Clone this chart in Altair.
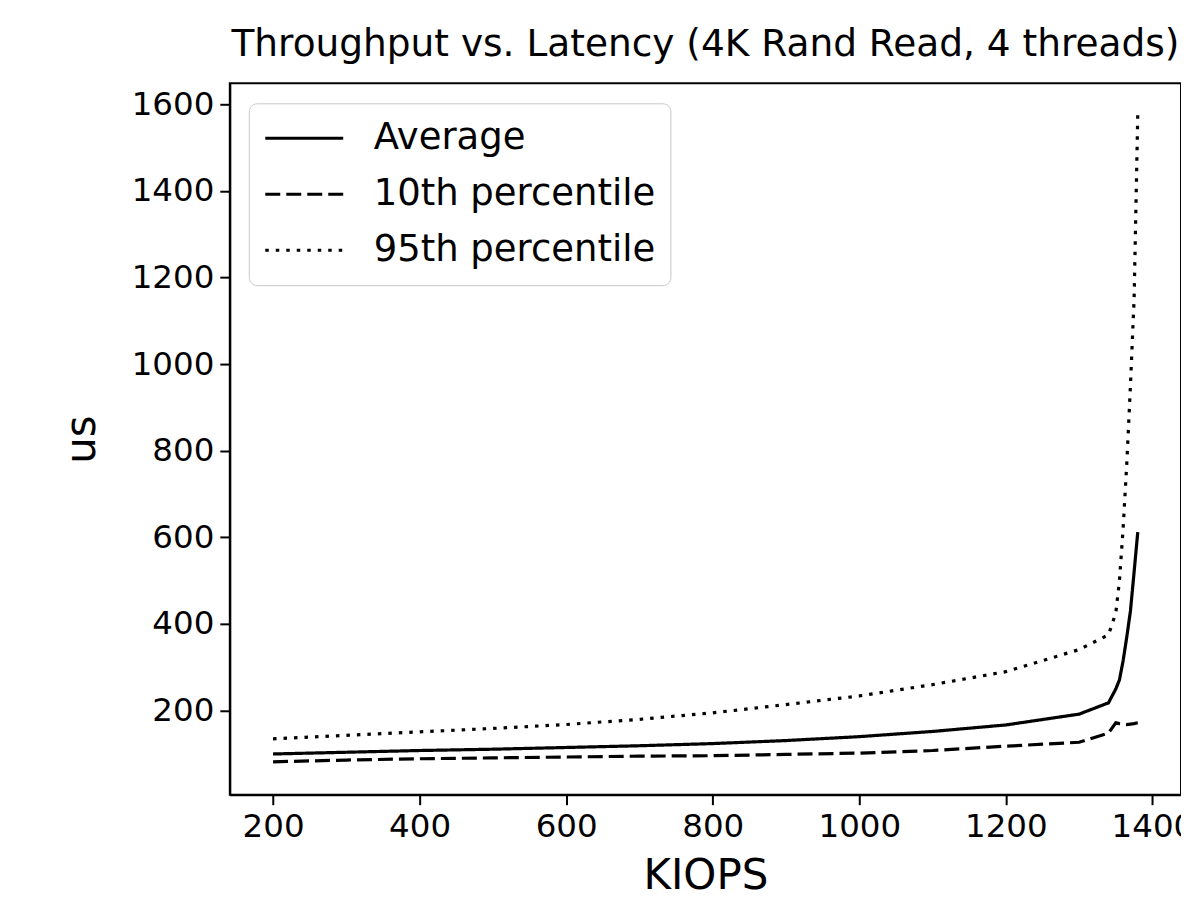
import altair as alt
import pandas as pd

kiops = [200, 300, 400, 500, 600, 700, 800, 900, 1000, 1100, 1200, 1300,
         1340, 1350, 1355, 1360, 1365, 1370, 1375, 1380]
avg = [100, 104, 108, 111, 115, 119, 124, 131, 140, 152, 167, 192,
       218, 250, 271, 315, 370, 430, 520, 612]
p10 = [82, 86, 89, 91, 93, 95, 96, 99, 102, 108, 118, 127,
       148, 172, 170, 169, 168, 169, 170, 172]
p95 = [135, 143, 151, 159, 168, 180, 195, 214, 234, 260, 290, 341,
       375, 425, 500, 620, 770, 950, 1150, 1575]
series_names = ["Average", "10th percentile", "95th percentile"]
x_ticks = [200, 400, 600, 800, 1000, 1200, 1400]
y_ticks = [200, 400, 600, 800, 1000, 1200, 1400, 1600]

rows = []
for name, vals in zip(series_names, [avg, p10, p95]):
    for k, v in zip(kiops, vals):
        rows.append({"KIOPS": k, "us": v, "series": name})
df = pd.DataFrame(rows)

FONT = "DejaVu Sans"

chart = alt.Chart(df).mark_line(color="black", strokeWidth=3.2, strokeCap="butt").encode(
    x=alt.X("KIOPS:Q",
            scale=alt.Scale(domain=[141, 1439], nice=False, zero=False),
            axis=alt.Axis(values=x_ticks, format="d", title="KIOPS", titlePadding=12)),
    y=alt.Y("us:Q",
            scale=alt.Scale(domain=[6, 1648], nice=False, zero=False),
            axis=alt.Axis(values=y_ticks, format="d", title="us", titlePadding=28)),
    strokeDash=alt.StrokeDash(
        "series:N",
        scale=alt.Scale(domain=series_names, range=[[1, 0], [15, 6], [3.5, 7]]),
        legend=alt.Legend(
            title=None, orient="none", legendX=19, legendY=20,
            fillColor="white", strokeColor="#c8c8c8", cornerRadius=8,
            padding=15, symbolType="stroke", symbolSize=6084,
            symbolStrokeWidth=3, symbolStrokeColor="black",
            labelFontSize=37, labelFont=FONT, labelColor="black",
            labelOffset=29, clipHeight=40, rowPadding=16, labelLimit=600,
        ),
    ),
    order="KIOPS:Q",
).properties(
    width=952,
    height=712,
    title=alt.TitleParams("Throughput vs. Latency (4K Rand Read, 4 threads)",
                          fontSize=37.5, font=FONT, fontWeight="normal",
                          color="black", offset=20),
    autosize=alt.AutoSizeParams(type="none"),
    padding={"left": 222, "top": 75, "right": 0, "bottom": 100},
).configure_axis(
    domainColor="black", domainWidth=2, tickColor="black", tickWidth=2,
    tickSize=10, labelFontSize=32.5, labelFont=FONT, labelColor="black",
    labelPadding=6, titleFontSize=42, titleFont=FONT,
    titleFontWeight="normal", titleColor="black", grid=False,
).configure_view(stroke="black", strokeWidth=2)

chart.save("out.html", embed_options={"renderer": "svg", "actions": False})
